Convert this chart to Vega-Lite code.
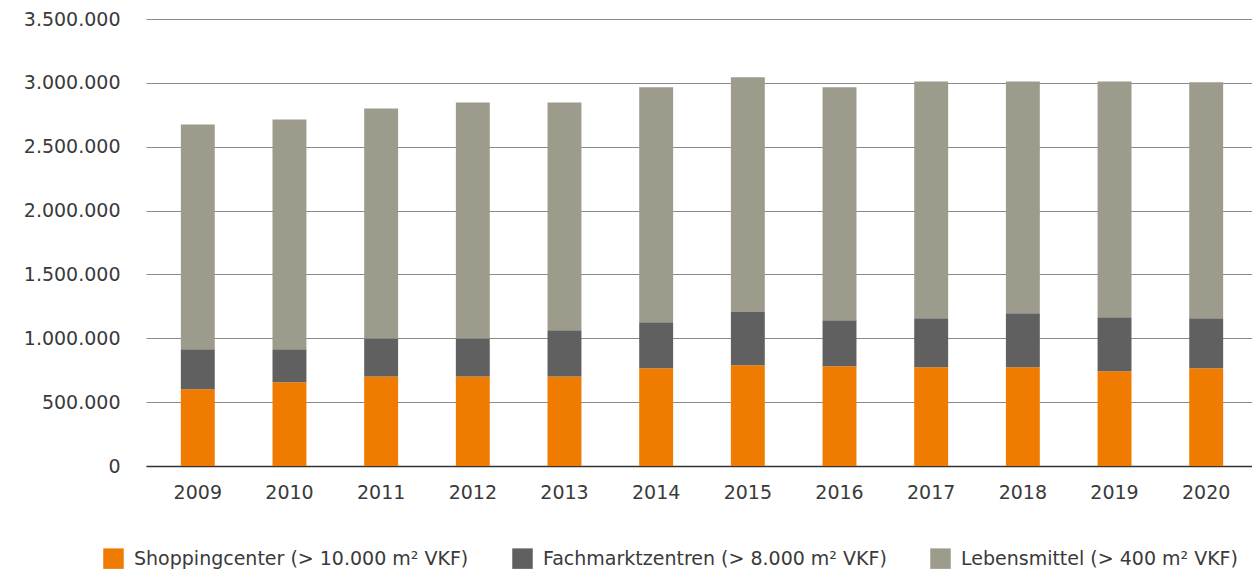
{
  "$schema": "https://vega.github.io/schema/vega-lite/v6.json",
  "width": 1112,
  "height": 447,
  "padding": {"left": 23, "top": 10, "right": 0, "bottom": 0},
  "config": {
    "locale": {"number": {"decimal": ",", "thousands": ".", "grouping": [3], "currency": ["", " €"]}},
    "view": {"stroke": null},
    "font": "DejaVu Sans"
  },
  "data": {
    "values": [
      {"jahr": "2009", "kat": "Shoppingcenter (> 10.000 m² VKF)", "ord": 1, "wert": 600000},
      {"jahr": "2009", "kat": "Fachmarktzentren (> 8.000 m² VKF)", "ord": 2, "wert": 315000},
      {"jahr": "2009", "kat": "Lebensmittel (> 400 m² VKF)", "ord": 3, "wert": 1758000},
      {"jahr": "2010", "kat": "Shoppingcenter (> 10.000 m² VKF)", "ord": 1, "wert": 655000},
      {"jahr": "2010", "kat": "Fachmarktzentren (> 8.000 m² VKF)", "ord": 2, "wert": 260000},
      {"jahr": "2010", "kat": "Lebensmittel (> 400 m² VKF)", "ord": 3, "wert": 1798000},
      {"jahr": "2011", "kat": "Shoppingcenter (> 10.000 m² VKF)", "ord": 1, "wert": 701000},
      {"jahr": "2011", "kat": "Fachmarktzentren (> 8.000 m² VKF)", "ord": 2, "wert": 297000},
      {"jahr": "2011", "kat": "Lebensmittel (> 400 m² VKF)", "ord": 3, "wert": 1801000},
      {"jahr": "2012", "kat": "Shoppingcenter (> 10.000 m² VKF)", "ord": 1, "wert": 701000},
      {"jahr": "2012", "kat": "Fachmarktzentren (> 8.000 m² VKF)", "ord": 2, "wert": 297000},
      {"jahr": "2012", "kat": "Lebensmittel (> 400 m² VKF)", "ord": 3, "wert": 1848000},
      {"jahr": "2013", "kat": "Shoppingcenter (> 10.000 m² VKF)", "ord": 1, "wert": 701000},
      {"jahr": "2013", "kat": "Fachmarktzentren (> 8.000 m² VKF)", "ord": 2, "wert": 362000},
      {"jahr": "2013", "kat": "Lebensmittel (> 400 m² VKF)", "ord": 3, "wert": 1783000},
      {"jahr": "2014", "kat": "Shoppingcenter (> 10.000 m² VKF)", "ord": 1, "wert": 765000},
      {"jahr": "2014", "kat": "Fachmarktzentren (> 8.000 m² VKF)", "ord": 2, "wert": 361000},
      {"jahr": "2014", "kat": "Lebensmittel (> 400 m² VKF)", "ord": 3, "wert": 1839000},
      {"jahr": "2015", "kat": "Shoppingcenter (> 10.000 m² VKF)", "ord": 1, "wert": 789000},
      {"jahr": "2015", "kat": "Fachmarktzentren (> 8.000 m² VKF)", "ord": 2, "wert": 416000},
      {"jahr": "2015", "kat": "Lebensmittel (> 400 m² VKF)", "ord": 3, "wert": 1839000},
      {"jahr": "2016", "kat": "Shoppingcenter (> 10.000 m² VKF)", "ord": 1, "wert": 781000},
      {"jahr": "2016", "kat": "Fachmarktzentren (> 8.000 m² VKF)", "ord": 2, "wert": 361000},
      {"jahr": "2016", "kat": "Lebensmittel (> 400 m² VKF)", "ord": 3, "wert": 1823000},
      {"jahr": "2017", "kat": "Shoppingcenter (> 10.000 m² VKF)", "ord": 1, "wert": 773000},
      {"jahr": "2017", "kat": "Fachmarktzentren (> 8.000 m² VKF)", "ord": 2, "wert": 384000},
      {"jahr": "2017", "kat": "Lebensmittel (> 400 m² VKF)", "ord": 3, "wert": 1854000},
      {"jahr": "2018", "kat": "Shoppingcenter (> 10.000 m² VKF)", "ord": 1, "wert": 773000},
      {"jahr": "2018", "kat": "Fachmarktzentren (> 8.000 m² VKF)", "ord": 2, "wert": 424000},
      {"jahr": "2018", "kat": "Lebensmittel (> 400 m² VKF)", "ord": 3, "wert": 1814000},
      {"jahr": "2019", "kat": "Shoppingcenter (> 10.000 m² VKF)", "ord": 1, "wert": 741000},
      {"jahr": "2019", "kat": "Fachmarktzentren (> 8.000 m² VKF)", "ord": 2, "wert": 424000},
      {"jahr": "2019", "kat": "Lebensmittel (> 400 m² VKF)", "ord": 3, "wert": 1846000},
      {"jahr": "2020", "kat": "Shoppingcenter (> 10.000 m² VKF)", "ord": 1, "wert": 765000},
      {"jahr": "2020", "kat": "Fachmarktzentren (> 8.000 m² VKF)", "ord": 2, "wert": 392000},
      {"jahr": "2020", "kat": "Lebensmittel (> 400 m² VKF)", "ord": 3, "wert": 1847000}
    ]
  },
  "mark": {"type": "bar"},
  "encoding": {
    "x": {
      "field": "jahr",
      "type": "ordinal",
      "scale": {"paddingInner": 0.63, "paddingOuter": 0.38},
      "axis": {
        "title": null,
        "labelAngle": 0,
        "labelFontSize": 19,
        "labelColor": "#3a3a3a",
        "labelPadding": 17,
        "ticks": false,
        "domain": true,
        "domainColor": "#333333",
        "domainWidth": 1.5,
        "grid": false
      }
    },
    "y": {
      "field": "wert",
      "type": "quantitative",
      "stack": "zero",
      "scale": {"domain": [0, 3500000], "nice": false},
      "axis": {
        "title": null,
        "values": [0, 500000, 1000000, 1500000, 2000000, 2500000, 3000000, 3500000],
        "format": ",d",
        "labelFontSize": 19,
        "labelColor": "#3a3a3a",
        "labelPadding": 26,
        "ticks": false,
        "domain": false,
        "grid": true,
        "gridColor": "#8a8a8a",
        "gridWidth": 1.2
      }
    },
    "color": {
      "field": "kat",
      "type": "nominal",
      "sort": ["Shoppingcenter (> 10.000 m² VKF)", "Fachmarktzentren (> 8.000 m² VKF)", "Lebensmittel (> 400 m² VKF)"],
      "scale": {
        "domain": ["Shoppingcenter (> 10.000 m² VKF)", "Fachmarktzentren (> 8.000 m² VKF)", "Lebensmittel (> 400 m² VKF)"],
        "range": ["#EF7C00", "#606060", "#9D9B8B"]
      },
      "legend": {
        "title": null,
        "orient": "none",
        "direction": "horizontal",
        "legendX": -43,
        "legendY": 529,
        "symbolType": "square",
        "symbolSize": 420,
        "symbolStrokeWidth": 0,
        "symbolOpacity": 1,
        "labelFontSize": 19,
        "labelColor": "#3a3a3a",
        "labelOffset": 10,
        "columnPadding": 43,
        "labelLimit": 400
      }
    },
    "order": {"field": "ord", "type": "quantitative", "sort": "ascending"}
  }
}
